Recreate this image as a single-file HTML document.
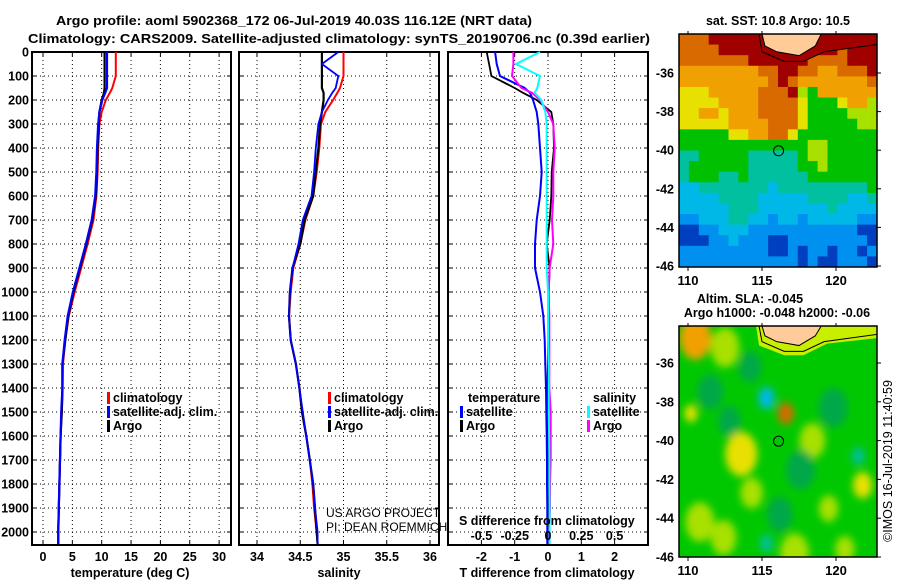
<!DOCTYPE html>
<html><head><meta charset="utf-8"><style>
body{margin:0;background:#fff;}
svg{display:block;font-family:"Liberation Sans",sans-serif;}
.b{font-weight:bold;font-size:13px;}
.t{font-weight:bold;font-size:12.5px;}
</style></head><body>
<svg id="fig" width="900" height="580" viewBox="0 0 900 580" xmlns="http://www.w3.org/2000/svg">
<text class="b" x="56" y="25" textLength="476" lengthAdjust="spacingAndGlyphs">Argo profile: aoml 5902368_172 06-Jul-2019 40.03S 116.12E (NRT data)</text>
<text class="b" x="28" y="43" textLength="622" lengthAdjust="spacingAndGlyphs">Climatology: CARS2009. Satellite-adjusted climatology: synTS_20190706.nc (0.39d earlier)</text>
<g id="maps"></g>
<g id="panels"></g>
</svg>
<script>
// ---- profile data ----
const depths = [0,50,100,150,170,200,250,300,400,500,600,700,800,900,1000,1100,1200,1300,1400,1500,1600,1700,1800,1900,2000,2050];
const tempClim = [12.4,12.4,12.4,11.8,11.4,10.7,10.0,9.6,9.4,9.3,9.1,8.6,7.6,6.5,5.4,4.4,3.8,3.4,3.35,3.2,3.0,2.9,2.8,2.7,2.55,2.55];
const tempSat  = [10.9,10.9,10.9,10.9,10.6,10.1,9.6,9.4,9.2,9.1,8.9,8.3,7.3,6.2,5.1,4.2,3.7,3.3,3.3,3.1,3.0,2.9,2.8,2.7,2.6,2.6];
const tempArgo = [10.5,10.5,10.5,10.5,10.4,10.0,9.6,9.5,9.3,9.2,9.0,8.4,7.4,6.3,5.2,4.3,3.8,3.3,3.3,3.2,3.0,2.9,2.8,2.7,2.6,2.6];
const salClim = [35.0,35.0,35.0,34.96,34.93,34.88,34.79,34.74,34.72,34.69,34.65,34.56,34.5,34.42,34.39,34.37,34.39,34.45,34.49,34.52,34.57,34.61,34.64,34.66,34.69,34.7];
const salSat  = [34.94,34.75,34.94,34.91,34.87,34.82,34.75,34.71,34.68,34.66,34.63,34.53,34.48,34.41,34.38,34.37,34.39,34.45,34.49,34.53,34.57,34.61,34.65,34.67,34.7,34.7];
const salArgo = [34.75,34.75,34.75,34.75,34.77,34.77,34.75,34.73,34.71,34.68,34.65,34.55,34.5,34.41,34.38,34.37,34.39,34.45,34.49,34.52,34.57,34.61,34.65,34.67,34.69,34.7];
// differences: T in deg C, S in psu
const dTSat  = [-1.59,-1.54,-1.44,-0.7,-0.54,-0.45,-0.34,-0.29,-0.24,-0.19,-0.24,-0.34,-0.39,-0.39,-0.24,-0.14,-0.1,-0.08,-0.06,-0.05,-0.04,-0.03,-0.03,-0.02,-0.02,-0.02];
const dTArgo = [-1.84,-1.77,-1.7,-1.0,-0.75,-0.34,0.1,0.16,0.18,0.11,0.1,0.05,-0.04,0.05,0.02,0.01,0.0,0.0,-0.02,0.0,0.0,0.0,0.0,0.0,0.0,0.0];
const dSSat  = [-0.06,-0.24,-0.06,-0.08,-0.1,-0.05,-0.02,-0.01,-0.01,-0.01,-0.01,-0.01,-0.01,-0.01,0.0,0.0,0.0,0.005,0.005,0.005,0.008,0.01,0.01,0.012,0.012,0.012];
const dSArgo = [-0.26,-0.26,-0.27,-0.2,-0.12,-0.06,0.0,0.04,0.05,0.04,0.04,0.03,0.04,0.012,0.005,0.01,0.01,0.01,0.01,0.02,0.02,0.02,0.015,0.015,0.01,0.01];
const depthTicks = [0,100,200,300,400,500,600,700,800,900,1000,1100,1200,1300,1400,1500,1600,1700,1800,1900,2000];
const tempTicks = [0,5,10,15,20,25,30];
const salTicks = [34,34.5,35,35.5,36];
const salTickLabels = ["34","34.5","35","35.5","36"];
const dTTicks = [-2,-1,0,1,2];
const dSTicks = [-0.5,-0.25,0,0.25,0.5];
const dSTickLabels = ["-0.5","-0.25","0","0.25","0.5"];
// ---- SST map grid (rows north->south, cols west->east) ----
const sstRows = [
"OOORRRRRRRRRRRRRRRRR",
"OOOORRRRRRRRRRRRORRR",
"OOOOOOORRRRRROOOORRR",
"ooooooooOORROOooOOOR",
"oooooooooOROoooooooO",
"YYYoooooOOORyGoooooo",
"YYYYooooOOOOYGGGYooy",
"YYooYoooOOOOYGGGGyyy",
"YYYYYooooOOOYGGGGGyy",
"GGGGGYYooOOYGGGGGGGG",
"GGGGGGGGGGGGGyyGGGGG",
"TTGGGGGTTTTTGyyGGGGG",
"TGGGGGGTTTTTGGyGGGGG",
"TGGGTTGTTTTTTGGGGGGG",
"CCTTTTTTTCTTTTTTTTTG",
"CCCCTTTTCCCCCTTTTCCT",
"CCCCCTTTCCCCCCCTCCCC",
"BBCCCTTCCBCCBCCCCCBB",
"DDBBCCCBBBBBBBBBBBDD",
"DDDBBCBBBDDBBBBBBBBD",
"BBBBBBBBBDDBDBBDBBDB",
"BBBBBBBBBBBBDBDDBBBD"];
const latTicks = [-36,-38,-40,-42,-44,-46];
const lonTicks = [110,115,120];
const argoLon = 116.12, argoLat = -40.03;
// SLA blobs: lon, lat, radius(deg), colour code
const slaLon = [110.5,112.5,113.6,115.3,116.6,118.4,110.8,114.3,119.5,121.8,112.4,117.2,110.2,121.5,115.3,120.6,111.5,114.2,117.6,112.8,119.8,116.2];
const slaLat = [-34.7,-35.2,-40.7,-37.8,-38.6,-40.0,-44.2,-42.7,-43.5,-42.3,-45.0,-45.8,-38.6,-40.8,-45.3,-45.6,-37.5,-36.2,-41.5,-39.0,-38.3,-43.8];
const slaRad = [1.0,0.9,1.0,0.5,0.5,0.8,0.9,0.7,0.6,0.6,0.8,0.9,0.4,0.4,0.4,0.6,0.8,0.7,0.9,0.7,0.9,0.8];
const slaCol = ["o","y","Y","C","O","y","y","y","y","Y","y","y","Y","T","T","y","g","g","g","g","g","g"];

const NS="http://www.w3.org/2000/svg";
const colMap={R:"#a00000",O:"#d86a00",o:"#f0a000",Y:"#e8e000",y:"#a8e000",G:"#00c000",g:"#00a848",T:"#00c0a0",C:"#00b8e8",B:"#0090f0",D:"#0040c0"};
function mk(tag,attrs,parent){const e=document.createElementNS(NS,tag);for(const k in attrs)e.setAttribute(k,attrs[k]);parent.appendChild(e);return e;}
function txt(s,x,y,cls,anchor,parent){const e=mk("text",{x:x,y:y,"text-anchor":anchor||"start"},parent);if(cls)e.setAttribute("class",cls);e.textContent=s;return e;}
const P=document.getElementById("panels");
const yD=d=>52+d*0.24;
const panels=[
 {name:"temperature-panel",x0:32,x1:231,sx:v=>43+v*5.87},
 {name:"salinity-panel",x0:239,x1:439,sx:v=>257+(v-34)*86.5},
 {name:"difference-panel",x0:448,x1:648,sx:v=>548+v*33.3}
];
panels.forEach((p,i)=>{
 const g=mk("g",{},P);
 
 
 const gx=i==0?tempTicks.map(p.sx):i==1?salTicks.map(p.sx):dTTicks.map(p.sx);
 gx.forEach(x=>{const l=mk("line",{x1:x,x2:x,y1:52,y2:545,stroke:"#000","stroke-width":1,"stroke-dasharray":"1,3"},g);
  mk("line",{x1:x,x2:x,y1:545,y2:541,stroke:"#000"},g);mk("line",{x1:x,x2:x,y1:52,y2:56,stroke:"#000"},g);});
 depthTicks.forEach(d=>{const y=yD(d);const l=mk("line",{x1:p.x0,x2:p.x1,y1:y,y2:y,stroke:"#000","stroke-width":1,"stroke-dasharray":"1,3"},g);
  mk("line",{x1:p.x0,x2:p.x0+4,y1:y,y2:y,stroke:"#000"},g);mk("line",{x1:p.x1,x2:p.x1-4,y1:y,y2:y,stroke:"#000"},g);});
 const r=mk("rect",{x:p.x0,y:52,width:p.x1-p.x0,height:493,fill:"none",stroke:"#000","stroke-width":2},g);
 
});
depthTicks.forEach(d=>{const t=txt(String(d),29,yD(d)+4.5,"t","end",P);});
function line(vals,sx,color,w,name){
 const pts=vals.map((v,i)=>sx(v).toFixed(1)+","+yD(depths[i]).toFixed(1)).join(" ");
 const l=mk("polyline",{points:pts,fill:"none",stroke:color,"stroke-width":w},P);
 
 
}
const sT=panels[0].sx,sS=panels[1].sx,sDT=panels[2].sx,sDS=v=>548+v*133.2;
line(tempClim,sT,"#ff0000",2,"temperature-climatology-line");
line(tempArgo,sT,"#000",2.2,"temperature-argo-line");
line(tempSat,sT,"#0000ff",2.2,"temperature-satellite-line");
line(salClim,sS,"#ff0000",2,"salinity-climatology-line");
line(salArgo,sS,"#000",2.2,"salinity-argo-line");
line(salSat,sS,"#0000ff",1.8,"salinity-satellite-line");
line(dTArgo,sDT,"#000",1.8,"t-diff-argo-line");
line(dTSat,sDT,"#0000ff",2,"t-diff-satellite-line");
line(dSArgo,sDS,"#ff00ff",2,"s-diff-argo-line");
line(dSSat,sDS,"#00ffff",2,"s-diff-satellite-line");
tempTicks.forEach(v=>{const t=txt(String(v),sT(v),561,"t","middle",P);});
salTicks.forEach((v,i)=>{const t=txt(salTickLabels[i],sS(v),561,"t","middle",P);});
dTTicks.forEach(v=>{const t=txt(String(v),sDT(v),561,"t","middle",P);});
dSTicks.forEach((v,i)=>{const t=txt(dSTickLabels[i],sDS(v),540,"t","middle",P);});
[["temperature (deg C)",130,"x-axis-title-temperature"],["salinity",339,"x-axis-title-salinity"],["T difference from climatology",547,"x-axis-title-t-diff"]].forEach(a=>{const t=txt(a[0],a[1],577,"t","middle",P);});
{const t=txt("S difference from climatology",459,525,"t","start",P);}
function legend(x,y,color,label,name){
 const r=mk("rect",{x:x,y:y-10,width:3,height:12,fill:color},P);
 
 const t=txt(label,x+6,y,"t","start",P);
}
legend(107,402,"#ff0000","climatology","legend-climatology");
legend(107,416,"#0000ff","satellite-adj. clim.","legend-satellite");
legend(107,430,"#000","Argo","legend-argo");
legend(328,402,"#ff0000","climatology","legend-climatology-sal");
legend(328,416,"#0000ff","satellite-adj. clim.","legend-satellite-sal");
legend(328,430,"#000","Argo","legend-argo-sal");
{const t=txt("temperature",468,402,"t","start",P);
 const s=txt("salinity",593,402,"t","start",P);}
legend(460,416,"#0000ff","satellite","legend-t-satellite");
legend(460,430,"#000","Argo","legend-t-argo");
legend(587,416,"#00ffff","satellite","legend-s-satellite");
legend(587,430,"#ff00ff","Argo","legend-s-argo");
{const a=txt("US ARGO PROJECT",326,517,"","start",P);a.setAttribute("font-size","12");
 const b=txt("PI: DEAN ROEMMICH",326,531,"","start",P);b.setAttribute("font-size","12");}

// ---- maps ----
const M=document.getElementById("maps");
const cp=mk("defs",{},M);
const c1=mk("clipPath",{id:"c1"},cp);mk("rect",{x:679,y:34,width:198,height:233},c1);
const c2=mk("clipPath",{id:"c2"},cp);mk("rect",{x:679,y:326,width:198,height:231},c2);
const bf=mk("filter",{id:"bl",x:"-50%",y:"-50%",width:"200%",height:"200%"},cp);mk("feGaussianBlur",{stdDeviation:"4"},bf);
const lonX=l=>688+(l-110)*14.8;
function mapFrame(y0,h,latY,clip,name,isSST){
 const g=mk("g",{"clip-path":"url(#"+clip+")"},M);
 
 
 if(isSST){
  const rh=h/sstRows.length,cw=198/sstRows[0].length;
  sstRows.forEach((row,ri)=>{[...row].forEach((c,ci)=>{
   const r=mk("rect",{x:679+ci*cw,y:y0+ri*rh,width:cw+0.5,height:rh+0.5,fill:colMap[c]},g);
   });});
 } else {
  mk("rect",{x:679,y:y0,width:198,height:h,fill:"#00c800"},g);
  const bg=mk("g",{filter:"url(#bl)"},g);
  slaLon.forEach((lo,i)=>{const e=mk("ellipse",{cx:lonX(lo),cy:latY(slaLat[i]),rx:slaRad[i]*16,ry:slaRad[i]*22,fill:colMap[slaCol[i]]},bg);
   });
  mk("path",{d:`M${lonX(114.6)} ${y0} L${lonX(114.8)} ${latY(-35.1)} L${lonX(116.5)} ${latY(-35.6)} L${lonX(117.8)} ${latY(-35.6)} L${lonX(119.4)} ${latY(-35.0)} L${lonX(123)} ${latY(-34.7)} L${lonX(123)} ${y0} Z`,fill:"#c8ee00"},g);
 }
 if(isSST){
  mk("path",{d:`M${lonX(114.8)} ${y0} L${lonX(115)} ${latY(-34.9)} L${lonX(116.5)} ${latY(-35.4)} L${lonX(117.8)} ${latY(-35.4)} L${lonX(119.2)} ${latY(-34.9)} L${lonX(123)} ${latY(-34.5)} L${lonX(123)} ${y0} Z`,fill:"#a00000"},g);
 }
 const land=mk("path",{d:`M${lonX(115)} ${y0} L${lonX(115.2)} ${latY(-34.6)} L${lonX(116)} ${latY(-34.9)} L${lonX(117.5)} ${latY(-35.1)} L${lonX(118.6)} ${latY(-34.6)} L${lonX(119)} ${y0} Z`,fill:"#ffcc99",stroke:"#000","stroke-width":1},g);
 
 mk("path",{d:`M${lonX(114.8)} ${y0} L${lonX(115)} ${latY(-34.9)} L${lonX(116.5)} ${latY(-35.4)} L${lonX(117.8)} ${latY(-35.4)} L${lonX(119.2)} ${latY(-34.9)} L${lonX(123)} ${latY(-34.5)}`,fill:"none",stroke:"#000","stroke-width":1},g);
 const c=mk("circle",{cx:lonX(argoLon),cy:latY(argoLat),r:5,fill:"none",stroke:"#000","stroke-width":1},M);
 
 const f=mk("rect",{x:679,y:y0,width:198,height:h,fill:"none",stroke:"#000","stroke-width":1.5},M);
 
 latTicks.forEach(la=>{const y=latY(la);mk("line",{x1:877,x2:881,y1:y,y2:y,stroke:"#000"},M);
  const t=txt(String(la),674,y+4.5,"t","end",M);});
 lonTicks.forEach(lo=>{const x=lonX(lo);mk("line",{x1:x,x2:x,y1:y0+h,y2:y0+h+4,stroke:"#000"},M);mk("line",{x1:x,x2:x,y1:y0,y2:y0-3,stroke:"#000"},M);
  const t=txt(String(lo),x,y0+h+18,"b","middle",M);});
}
mapFrame(34,233,la=>73+(-36-la)*19.3,"c1","sst-map",true);
mapFrame(326,231,la=>363+(-36-la)*19.4,"c2","sla-map",false);
{const a=txt("sat. SST: 10.8 Argo: 10.5",778,25,"t","middle",M);
 const b=txt("Altim. SLA: -0.045",750,303,"t","middle",M);
 const c=txt("Argo h1000: -0.048 h2000: -0.06",777,317,"t","middle",M);
 const d=txt("\u00A9IMOS 16-Jul-2019 11:40:59",0,0,"","middle",M);d.setAttribute("font-size","12.5");d.setAttribute("transform","translate(892,461) rotate(-90)");}
</script>
</body></html>
